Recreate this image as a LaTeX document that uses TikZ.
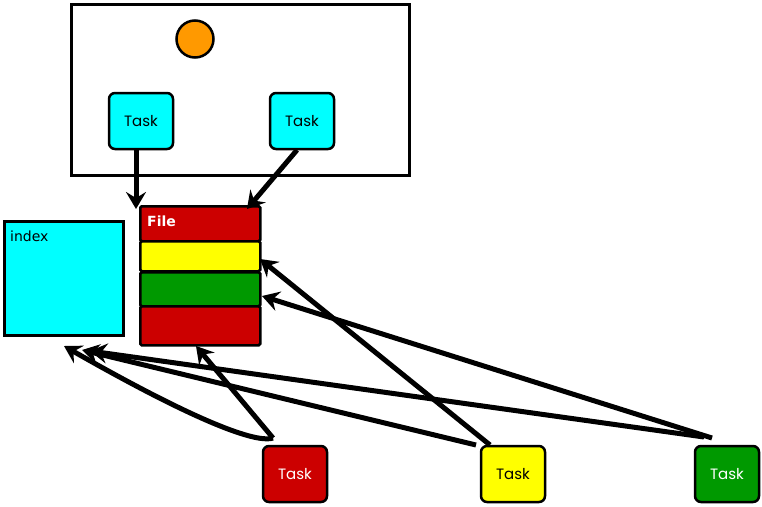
\documentclass[tikz,border=0pt]{standalone}
\usepackage{fontspec}
\setmainfont{DejaVu Sans}
\newfontfamily\taskfont{Poppins}
\newfontfamily\labelfont{DejaVu Sans}
\usetikzlibrary{arrows.meta}
\definecolor{cRed}{HTML}{CC0000}
\definecolor{cYel}{HTML}{FFFF00}
\definecolor{cGrn}{HTML}{009900}
\definecolor{cCyan}{HTML}{00FFFF}
\definecolor{cOrange}{HTML}{FF9900}
\begin{document}
\begin{tikzpicture}[x=1pt,y=-1pt,
  box/.style={draw=black,line width=2.5pt},
  taskbox/.style={draw=black,line width=2.5pt,rounded corners=6pt,minimum width=64pt,minimum height=56pt,inner sep=0pt,font=\taskfont\fontsize{15}{17}\selectfont},
  slab/.style={draw=black,line width=2.5pt,rounded corners=1.5pt,minimum width=120pt,inner sep=0pt,anchor=north west},
  link/.style={line width=5pt,-{Stealth[length=17pt,width=20pt,inset=6pt]}},
]
\useasboundingbox (0,0) rectangle (762,506);
% container with the marker circle
\node[box,minimum width=338pt,minimum height=171pt,anchor=north west,inner sep=0pt] (frame) at (70,3) {};
\node[draw=black,line width=2.5pt,fill=cOrange,circle,minimum size=37pt,inner sep=0pt] (dot) at (195,39) {};
\node[taskbox,fill=cCyan] (t1) at (141,121) {Task};
\node[taskbox,fill=cCyan] (t2) at (302,121) {Task};
% file made of colored slabs
\node[slab,fill=cRed,minimum height=35pt] (f0) at (139,205) {};
\node[slab,fill=cYel,minimum height=30pt] (f1) at (139,240) {};
\node[slab,fill=cGrn,minimum height=34pt] (f2) at (139,271) {};
\node[slab,fill=cRed,minimum height=39pt] (f3) at (139,305) {};
\node[anchor=west,text=white,font=\labelfont\bfseries\fontsize{14}{16}\selectfont,inner sep=0pt] (flabel) at (147,221) {File};
% index block
\node[box,fill=cCyan,minimum width=119pt,minimum height=114pt,anchor=north west,inner sep=0pt] (idx) at (3,220) {};
\node[anchor=west,font=\labelfont\fontsize{14}{16}\selectfont,inner sep=0pt] (ilabel) at (10,236) {index};
% tasks below
\node[taskbox,fill=cRed,text=white] (b1) at (295,474) {Task};
\node[taskbox,fill=cYel] (b2) at (513,474) {Task};
\node[taskbox,fill=cGrn,text=white] (b3) at (727,474) {Task};
% anchor points for the connectors
\coordinate (t1s) at (136,150);
\coordinate (t2s) at (297,150);
\coordinate (f0a) at (136,209);
\coordinate (f0b) at (247,209);
\coordinate (f1e) at (260,259);
\coordinate (f2e) at (262,296);
\coordinate (f3b) at (196,346);
\coordinate (ia) at (64,346);
\coordinate (ib) at (82,350);
\coordinate (ic) at (90,351);
\coordinate (b1t) at (273,438);
\coordinate (b2t) at (490,445);
\coordinate (b2s) at (476,445);
\coordinate (b3t) at (712,438);
\coordinate (b3s) at (704,437);
% connectors
\draw[link] (t1s) -- (f0a);
\draw[link] (t2s) -- (f0b);
\draw[link] (b1t) -- (f3b);
\draw[link] (b1t) .. controls (262,442) and (220,435) .. (ia);
\draw[link] (b2t) -- (f1e);
\draw[link] (b2s) -- (ib);
\draw[link] (b3t) -- (f2e);
\draw[link] (b3s) -- (ic);
\end{tikzpicture}
\end{document}
